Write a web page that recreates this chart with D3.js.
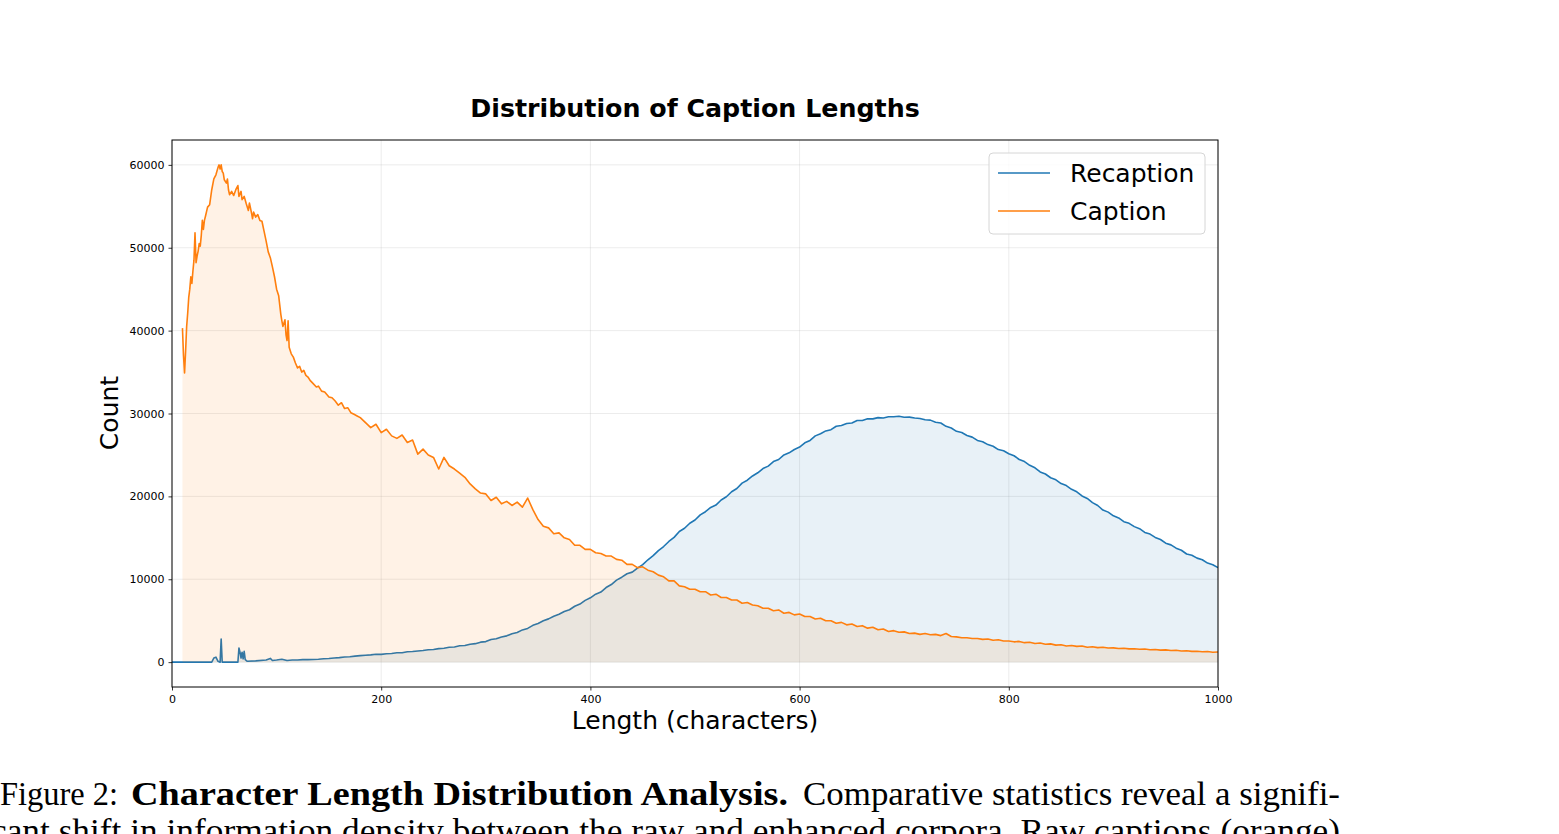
<!DOCTYPE html>
<html>
<head>
<meta charset="utf-8">
<script src="https://cdn.jsdelivr.net/npm/d3@7"></script>
<style>
  html, body { margin: 0; padding: 0; background: #ffffff; overflow: hidden; }
  svg { display: block; }
</style>
</head>
<body>
<svg id="chart" width="1559" height="834"></svg>
<script>
// ---------------- DATA ----------------
const seriesNames = ["Recaption", "Caption"];
const xTicks = [0, 200, 400, 600, 800, 1000];
const yTicks = [0, 10000, 20000, 30000, 40000, 50000, 60000];

const recaptionLengths = [0, 38, 40, 42, 44, 46, 47, 48, 60, 63, 64, 65, 66, 67, 68, 69, 70, 72, 80, 90, 94, 96, 100, 105, 110, 115, 120, 125, 130, 135, 140, 145]
  .concat(d3.range(150, 1001, 5));
const recaptionCounts = [0, 0, 500, 600, 100, 0, 2800, 0, 0, 0, 1700, 1200, 500, 1200, 400, 1300, 300, 100, 150, 250, 450, 200, 250, 350, 200, 250, 250, 300, 300, 320, 350, 400,
  430, 500, 540, 620, 650, 720, 790, 840, 880, 950, 940, 1020, 1050, 1140, 1130, 1260, 1280, 1350, 1400, 1500,
  1530, 1630, 1680, 1790, 1830, 1980, 2000, 2160, 2230, 2410, 2480, 2730, 2830, 3040, 3170, 3420, 3580, 3890, 4070, 4440,
  4670, 4990, 5220, 5540, 5770, 6100, 6320, 6740, 7010, 7450, 7760, 8200, 8460, 9000, 9360, 9900, 10250, 10660, 10860, 11350,
  11760, 12350, 12850, 13460, 13950, 14560, 15050, 15760, 16150, 16760, 17150, 17760, 18150, 18660, 18950, 19560, 19950, 20560, 20950, 21600,
  21950, 22460, 22850, 23360, 23650, 24200, 24450, 25000, 25250, 25660, 25950, 26460, 26750, 27300, 27550, 27900, 28050, 28460, 28550, 28800,
  28850, 29160, 29150, 29360, 29350, 29500, 29450, 29600, 29600, 29660, 29550, 29560, 29450, 29400, 29250, 29200, 28950, 28850, 28450, 28250,
  27850, 27700, 27350, 27150, 26750, 26600, 26250, 26050, 25650, 25500, 25150, 24900, 24450, 24200, 23750, 23450, 22950, 22700, 22250, 22000,
  21550, 21300, 20850, 20550, 20050, 19750, 19250, 18900, 18350, 18100, 17650, 17400, 16950, 16750, 16350, 16100, 15650, 15450, 15050, 14800,
  14350, 14150, 13750, 13500, 13050, 12900, 12550, 12350, 11950, 11750, 11400];

const captionLengths = [10, 11, 12, 13, 14, 15, 16, 17, 18, 19, 20, 21, 22, 23, 24, 25, 26, 27, 28, 29, 30, 31, 32, 34, 36, 38, 40, 42, 44, 45, 46, 47, 48, 49, 50,
  52, 53, 54, 55, 57, 59, 61, 63, 64, 66, 67, 69, 71, 73, 74, 76, 77, 78, 80, 82, 84, 86, 88, 90, 92, 94, 96, 98, 100, 102, 104, 105, 106, 108, 109, 110, 111, 112,
  114, 116, 118, 120, 122, 124, 126, 128, 130, 132, 135, 138, 140, 143, 146, 148, 150, 153, 156, 159, 162, 165, 168, 171, 174, 177]
  .concat(d3.range(180, 1001, 5));
const captionCounts = [40300, 37000, 34900, 37500, 40500, 42100, 44000, 45000, 46500, 45700, 47200, 48500, 51800, 48200, 49000, 49600, 50500, 50200, 51500, 53300,
  52200, 53300, 53800, 54900, 55200, 57000, 58300, 58800, 59700, 60000, 59500, 60000, 59200, 59000, 58200,
  57800, 58300, 57000, 56400, 56800, 56300, 57000, 57500, 56200, 56800, 55800, 56200, 55300, 54500, 55400, 54200, 53500, 54300, 53700, 54000,
  53300, 53200, 52000, 50800, 49500, 48800, 47700, 46500, 45000, 44200, 42000, 41200, 40500, 41300, 39500, 38800, 41200, 38000,
  37200, 36800, 36100, 35500, 35700, 35000, 35200, 34600, 34400, 34000, 33600, 33200, 33300, 32700, 32600, 32300, 32000, 31900, 31500, 31000,
  31300, 30600, 30700, 30100, 29900, 29700,
  29500, 28900, 28300, 28700, 27700, 28100, 27300, 27000, 27400, 26500, 26800, 25100, 25700, 25000, 24700, 23300, 24700, 23700, 23300, 22800,
  22300, 21500, 20900, 20400, 20300, 19500, 19900, 19100, 19400, 18900, 19300, 18700, 19800, 18400, 17200, 16400, 16200, 15500, 15600, 15000,
  14800, 14100, 14100, 13600, 13600, 13200, 13100, 12800, 12800, 12400, 12300, 11800, 11800, 11400, 11500, 11100, 10900, 10500, 10300, 9800,
  9800, 9200, 9100, 8800, 8800, 8500, 8500, 8100, 8200, 7800, 7800, 7500, 7500, 7100, 7200, 6900, 6800, 6500, 6500, 6200,
  6300, 5900, 6000, 5700, 5800, 5500, 5500, 5200, 5300, 5000, 5000, 4700, 4800, 4500, 4600, 4300, 4400, 4100, 4200, 3900,
  4000, 3700, 3800, 3600, 3650, 3450, 3500, 3350, 3450, 3300, 3350, 3200, 3450, 3100, 3050, 2950, 2950, 2850, 2850, 2750,
  2800, 2650, 2700, 2550, 2550, 2450, 2500, 2350, 2400, 2250, 2300, 2150, 2200, 2050, 2100, 1950, 2000, 1900, 1950, 1800,
  1850, 1750, 1800, 1700, 1720, 1650, 1680, 1600, 1620, 1550, 1580, 1500, 1530, 1450, 1480, 1400, 1430, 1350, 1380, 1300,
  1320, 1250, 1280, 1200, 1220];

// ---------------- CHART ----------------
const svg = d3.select("#chart");
const plot = { left: 172, right: 1218, top: 140, bottom: 687 };
const colors = { Recaption: "#1f77b4", Caption: "#ff7f0e" };

const x = d3.scaleLinear().domain([0, 1000]).range([plot.left, plot.right]);
const y = d3.scaleLinear().domain([-3000, 63000]).range([plot.bottom, plot.top]);

svg.append("defs").append("clipPath").attr("id", "clip")
  .append("rect").attr("x", plot.left).attr("y", plot.top)
  .attr("width", plot.right - plot.left).attr("height", plot.bottom - plot.top);

// grid
const grid = svg.append("g");
grid.selectAll(".gx").data(xTicks).join("line")
  .attr("x1", d => x(d)).attr("x2", d => x(d))
  .attr("y1", plot.top).attr("y2", plot.bottom)
  .attr("stroke", "#b0b0b0").attr("stroke-opacity", 0.3).attr("stroke-width", 0.8);
grid.selectAll(".gy").data(yTicks).join("line")
  .attr("x1", plot.left).attr("x2", plot.right)
  .attr("y1", d => y(d)).attr("y2", d => y(d))
  .attr("stroke", "#b0b0b0").attr("stroke-opacity", 0.3).attr("stroke-width", 0.8);

const recapData = recaptionLengths.map((l, i) => [l, recaptionCounts[i]]);
const capData = captionLengths.map((l, i) => [l, captionCounts[i]]);

const area = d3.area().x(d => x(d[0])).y0(y(0)).y1(d => y(d[1]));
const line = d3.line().x(d => x(d[0])).y(d => y(d[1]));

const g = svg.append("g").attr("clip-path", "url(#clip)");
g.append("path").datum(recapData).attr("d", area)
  .attr("fill", colors.Recaption).attr("fill-opacity", 0.1);
g.append("path").datum(recapData).attr("d", line)
  .attr("fill", "none").attr("stroke", colors.Recaption).attr("stroke-width", 1.6).attr("stroke-linejoin", "round");
g.append("path").datum(capData).attr("d", area)
  .attr("fill", colors.Caption).attr("fill-opacity", 0.1);
g.append("path").datum(capData).attr("d", line)
  .attr("fill", "none").attr("stroke", colors.Caption).attr("stroke-width", 1.6).attr("stroke-linejoin", "round");

// axes
const xAxis = d3.axisBottom(x).tickValues(xTicks).tickSize(3.5).tickPadding(5).tickFormat(d3.format("d"));
const yAxis = d3.axisLeft(y).tickValues(yTicks).tickSize(3.5).tickPadding(4).tickFormat(d3.format("d"));
const gx = svg.append("g").attr("transform", `translate(0,${plot.bottom})`).call(xAxis);
const gy = svg.append("g").attr("transform", `translate(${plot.left},0)`).call(yAxis);
[gx, gy].forEach(a => {
  a.select(".domain").remove();
  a.selectAll("text").attr("font-family", "DejaVu Sans").attr("font-size", 11).attr("fill", "#000");
  a.selectAll("line").attr("stroke", "#000").attr("stroke-width", 0.8);
});

// frame
svg.append("rect").attr("x", plot.left).attr("y", plot.top)
  .attr("width", plot.right - plot.left).attr("height", plot.bottom - plot.top)
  .attr("fill", "none").attr("stroke", "#000").attr("stroke-width", 1);

// title & labels
svg.append("text").attr("x", 695).attr("y", 117).attr("text-anchor", "middle")
  .attr("font-family", "DejaVu Sans").attr("font-weight", "bold").attr("font-size", 25.3)
  .text("Distribution of Caption Lengths");
svg.append("text").attr("x", 695).attr("y", 729).attr("text-anchor", "middle")
  .attr("font-family", "DejaVu Sans").attr("font-size", 25)
  .text("Length (characters)");
svg.append("text").attr("transform", "translate(118,413) rotate(-90)").attr("text-anchor", "middle")
  .attr("font-family", "DejaVu Sans").attr("font-size", 25)
  .text("Count");

// legend
const lg = svg.append("g");
lg.append("rect").attr("x", 989).attr("y", 153).attr("width", 216).attr("height", 81)
  .attr("rx", 4).attr("fill", "#fff").attr("fill-opacity", 0.8)
  .attr("stroke", "#d6d6d6").attr("stroke-width", 1);
seriesNames.forEach((name, i) => {
  const yy = 173 + i * 38;
  lg.append("line").attr("x1", 998).attr("x2", 1050).attr("y1", yy).attr("y2", yy)
    .attr("stroke", colors[name]).attr("stroke-width", 1.5);
  lg.append("text").attr("x", 1070).attr("y", yy + 9)
    .attr("font-family", "DejaVu Sans").attr("font-size", 25).attr("fill", "#000")
    .text(name);
});

// figure caption (paper text below the chart)
const cap = svg.append("g").attr("font-family", "Liberation Serif, DejaVu Serif, serif").attr("font-size", 34).attr("fill", "#000");
cap.append("text").attr("x", 0).attr("y", 805).attr("textLength", 118).attr("lengthAdjust", "spacingAndGlyphs").text("Figure 2:");
cap.append("text").attr("x", 131).attr("y", 805).attr("font-weight", "bold").attr("textLength", 657).attr("lengthAdjust", "spacingAndGlyphs").text("Character Length Distribution Analysis.");
cap.append("text").attr("x", 803).attr("y", 805).attr("textLength", 537).attr("lengthAdjust", "spacingAndGlyphs").text("Comparative statistics reveal a signifi-");
cap.append("text").attr("x", -9).attr("y", 842).attr("textLength", 1349).attr("lengthAdjust", "spacingAndGlyphs").text("cant shift in information density between the raw and enhanced corpora. Raw captions (orange)");
</script>
</body>
</html>
